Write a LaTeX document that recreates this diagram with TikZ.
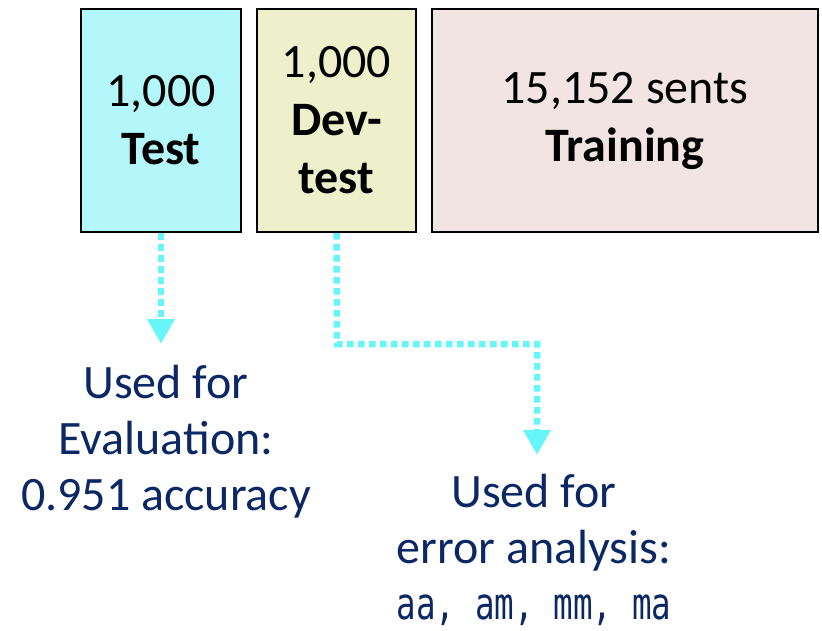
\documentclass[tikz,border=0pt]{standalone}
\usepackage{fontspec}
\setmainfont{Carlito}
\newfontfamily\codefont[FakeStretch=0.74]{DejaVu Sans Mono}
\usetikzlibrary{arrows.meta}
\definecolor{testfill}{HTML}{B3F7FB}
\definecolor{devfill}{HTML}{EEF0CC}
\definecolor{trainfill}{HTML}{F2E4E2}
\definecolor{labelblue}{HTML}{0B2865}
\definecolor{flowcyan}{HTML}{66F5F9}
\tikzset{
  splitbox/.style={draw=black, line width=2.4pt, inner sep=0pt, align=center,
    minimum height=223pt, font=\fontsize{48}{58}\selectfont},
  usage/.style={text=labelblue, align=center, inner sep=0pt,
    font=\fontsize{48}{56}\selectfont},
  flow/.style={draw=flowcyan, line width=6.5pt, dash pattern=on 6.5pt off 4.5pt,
    -{Triangle[width=26pt,length=25pt,fill=flowcyan]}, shorten >=0pt}
}
\begin{document}
\begin{tikzpicture}[x=1pt,y=-1pt]
  \useasboundingbox (0,0) rectangle (822,630);
  % data split boxes
  \node[splitbox, fill=testfill, minimum width=160pt] (test) at (161,120.5)
    {1,000\\\textbf{Test}};
  \node[splitbox, fill=devfill, minimum width=159pt] (dev) at (336.5,120.5)
    {1,000\\\textbf{Dev-}\\\textbf{test}};
  \node[splitbox, fill=trainfill, minimum width=386pt] (train) at (625,120.5)
    {15,152 sents\\\textbf{Training}};
  % usage notes
  \node[usage, anchor=north] (evalnote) at (166,365)
    {Used for\\Evaluation:\\0.951 accuracy};
  \node[usage, anchor=north] (errnote) at (534,474)
    {Used for\\error analysis:\\{\codefont\fontsize{44}{56}\selectfont aa, am, mm, ma}};
  % arrows
  \coordinate (evaltip) at (161,344);
  \coordinate (bendA) at (337,344);
  \coordinate (bendB) at (537,344);
  \coordinate (errtip) at (537,455);
  \draw[flow] (test.south) -- (evaltip);
  \draw[flow] (dev.south) -- (bendA) -- (bendB) -- (errtip);
\end{tikzpicture}
\end{document}
